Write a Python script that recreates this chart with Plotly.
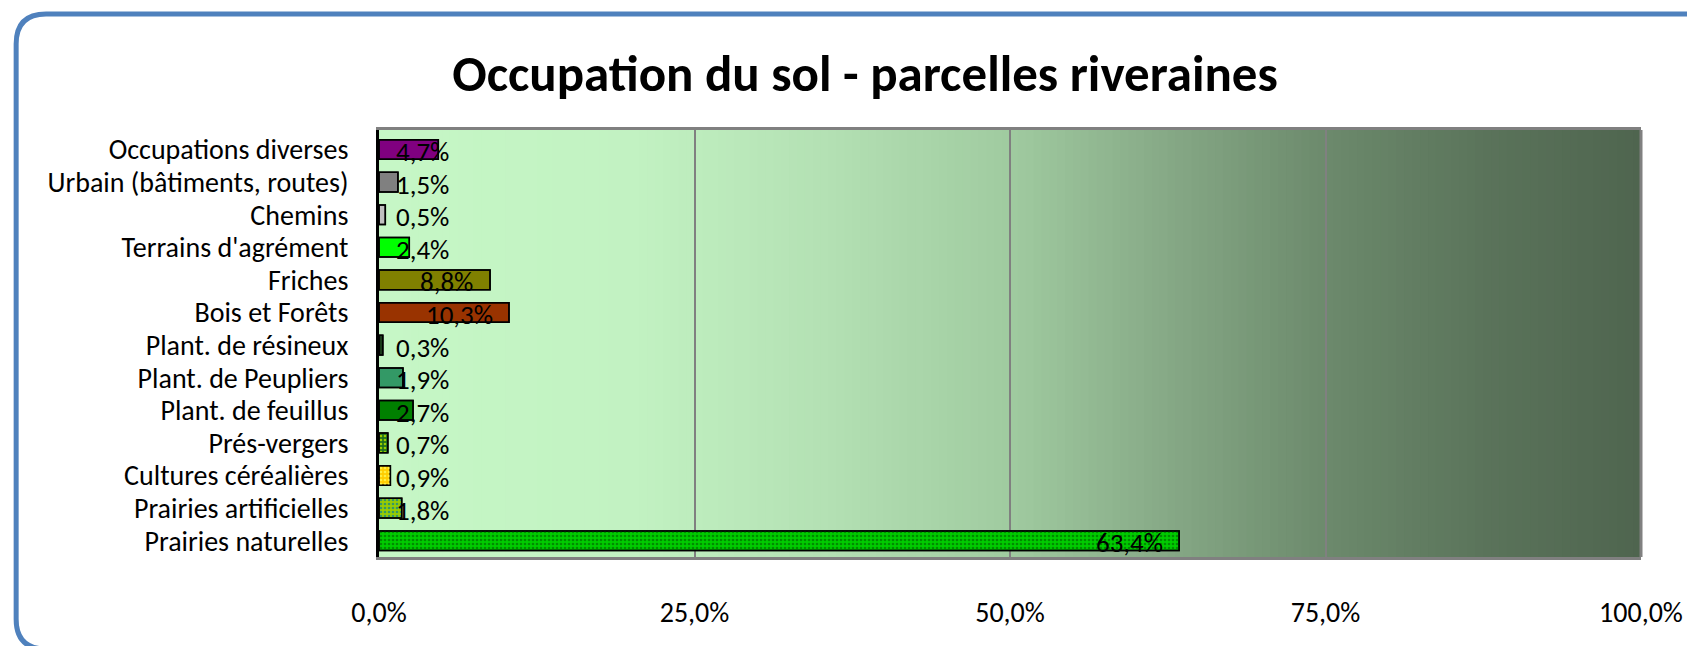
import plotly.graph_objects as go

categories = ["Occupations diverses", "Urbain (bâtiments, routes)", "Chemins",
              "Terrains d'agrément", "Friches", "Bois et Forêts",
              "Plant. de résineux", "Plant. de Peupliers", "Plant. de feuillus",
              "Prés-vergers", "Cultures céréalières", "Prairies artificielles",
              "Prairies naturelles"]
values = [4.7, 1.5, 0.5, 2.4, 8.8, 10.3, 0.3, 1.9, 2.7, 0.7, 0.9, 1.8, 63.4]
labels = ["4,7%", "1,5%", "0,5%", "2,4%", "8,8%", "10,3%", "0,3%", "1,9%",
          "2,7%", "0,7%", "0,9%", "1,8%", "63,4%"]
bar_colors = ["#800080", "#808080", "#C0C0C0", "#00FF00", "#808000", "#993300",
              "#1A3A1A", "#339966", "#008000", "#1E6E1E", "#FFCC00", "#99CC00",
              "#00CC00"]
pattern_fg = [None, None, None, None, None, None, None, None, None,
              "#99CC00", "#FFEE44", "#339966", "#008C00"]
tick_vals = [0, 25, 50, 75, 100]
tick_text = ["0,0%", "25,0%", "50,0%", "75,0%", "100,0%"]
title_text = "Occupation du sol - parcelles riveraines"

OFF = 8  # page body margin
W, H = 1695 - OFF, 646 - OFF
ML, MR, MT, MB = 379 - OFF, 1695 - 1645, 130 - OFF, 646 - 557
PW = W - ML - MR
PH = H - MT - MB
FONT = "Carlito, Lato, sans-serif"

pat_fg = [s if s else "rgba(0,0,0,0)" for s in pattern_fg]
pat_sh = ["." if s else "" for s in pattern_fg]

fig = go.Figure()
# solid base bars
fig.add_trace(go.Bar(
    y=categories, x=values, orientation="h",
    marker=dict(color=bar_colors, line=dict(color="black", width=1.5)),
    width=0.6, hoverinfo="skip",
))
# dotted texture overlay
fig.add_trace(go.Bar(
    y=categories, x=values, orientation="h",
    marker=dict(color="rgba(0,0,0,0)", line=dict(color="black", width=1.5),
                pattern=dict(shape=pat_sh, fgcolor=pat_fg, fgopacity=1, size=4,
                             solidity=0.35)),
    width=0.6, hoverinfo="skip",
))

# gradient background
stops = [(0.0, (198, 247, 198)), (0.2, (194, 242, 194)), (0.35, (180, 225, 180)),
         (0.5, (160, 203, 160)), (0.62, (135, 170, 135)), (0.75, (108, 138, 108)),
         (0.88, (90, 115, 90)), (1.0, (79, 101, 79))]

def col(t):
    for (a, ca), (b, cb) in zip(stops[:-1], stops[1:]):
        if a <= t <= b:
            f = (t - a) / (b - a)
            return "rgb(%d,%d,%d)" % tuple(round(ca[i] + (cb[i] - ca[i]) * f) for i in range(3))
    return "rgb(79,101,79)"

shapes = []
N = 160
for i in range(N):
    x0 = i / N
    x1 = min(1, (i + 1.6) / N)
    shapes.append(dict(type="rect", xref="x domain", yref="y domain", x0=x0, x1=x1,
                       y0=0, y1=1, fillcolor=col((i + 0.5) / N), line=dict(width=0),
                       layer="below"))
shapes.append(dict(type="line", xref="x domain", yref="y domain", x0=1, x1=1, y0=0, y1=1,
                   line=dict(color="#808080", width=3), layer="above"))

# rounded frame in paper coords (figure pixel coords converted)
def px(xp):
    return (xp - ML) / PW

def py(yp):
    return (H - MB - yp) / PH

L, T, B, R, r = 15 - OFF, 14 - OFF, 649 - OFF, 1720, 30
path = (f"M {px(L)},{py(B - r)} L {px(L)},{py(T + r)} Q {px(L)},{py(T)} {px(L + r)},{py(T)} "
        f"L {px(R)},{py(T)} L {px(R)},{py(B)} L {px(L + r)},{py(B)} Q {px(L)},{py(B)} {px(L)},{py(B - r)} Z")
shapes.append(dict(type="path", xref="paper", yref="paper", path=path,
                   line=dict(color="#4F81BD", width=5), fillcolor="rgba(0,0,0,0)", layer="above"))

# data labels (Excel-like inside-end, clamped near the axis)
ppu = PW / 100.0
annotations = []
for cat, v, lab in zip(categories, values, labels):
    w = len(lab) * 13.5
    x_left = max(v - (17 + w) / ppu, 16 / ppu)
    annotations.append(dict(x=x_left, y=cat, text=lab, showarrow=False, xanchor="left",
                            yanchor="middle", font=dict(family=FONT, size=27, color="black"),
                            borderpad=0, yshift=-2))

fig.update_layout(
    width=W, height=H,
    margin=dict(l=ML, r=MR, t=MT, b=MB),
    paper_bgcolor="white", plot_bgcolor="rgba(0,0,0,0)",
    showlegend=False, barmode="overlay",
    title=dict(text="<b>" + title_text + "</b>", x=(865 - OFF) / W, xanchor="center",
               xref="container", y=1 - (73 - OFF) / H, yanchor="middle", yref="container",
               font=dict(family=FONT, size=51, color="black")),
    xaxis=dict(range=[0, 100], tickvals=tick_vals, ticktext=tick_text, showgrid=True,
               gridcolor="#808080", gridwidth=2, showline=True, linecolor="#808080",
               linewidth=3, mirror=True, ticks="", zeroline=False, ticklabelstandoff=28,
               tickfont=dict(family=FONT, size=28, color="black"), fixedrange=True),
    yaxis=dict(autorange="reversed", showline=True, linecolor="black", linewidth=3,
               tickmode="array", tickvals=categories, ticktext=categories,
               ticks="", ticklabelstandoff=22, showgrid=False,
               tickfont=dict(family=FONT, size=28, color="black"), fixedrange=True),
    bargap=0.4,
    shapes=shapes, annotations=annotations,
)

fig.write_html("out.html")
